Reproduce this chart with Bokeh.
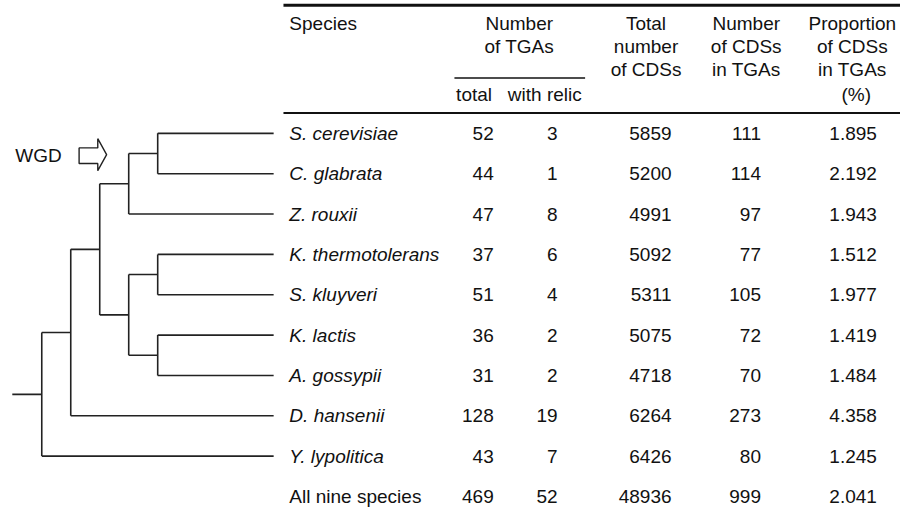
from bokeh.plotting import figure
from bokeh.models import ColumnDataSource, Range1d
from bokeh.core.properties import value
from bokeh.embed import file_html
from bokeh.resources import INLINE

# ---------------- data ----------------
species = ["S. cerevisiae", "C. glabrata", "Z. rouxii", "K. thermotolerans", "S. kluyveri",
           "K. lactis", "A. gossypii", "D. hansenii", "Y. lypolitica"]
tga_total = [52, 44, 47, 37, 51, 36, 31, 128, 43]
tga_relic = [3, 1, 8, 6, 4, 2, 2, 19, 7]
cds_total = [5859, 5200, 4991, 5092, 5311, 5075, 4718, 6264, 6426]
cds_in_tga = [111, 114, 97, 77, 105, 72, 70, 273, 80]
prop_pct = [1.895, 2.192, 1.943, 1.512, 1.977, 1.419, 1.484, 4.358, 1.245]

summary_label = "All nine species"
summary_values = [469, 52, 48936, 999, 2.041]

# phylogeny (leaf indices refer to species list)
tree = (((((0, 1), 2), ((3, 4), (5, 6))), 7), 8)
event_label = "WGD"

header_species = ["Species"]
header_tga = ["Number", "of TGAs"]
header_tga_sub = ["total", "with relic"]
header_cds = ["Total", "number", "of CDSs"]
header_cds_tga = ["Number", "of CDSs", "in TGAs"]
header_prop = ["Proportion", "of CDSs", "in TGAs"]
header_prop_unit = "(%)"

# ---------------- layout (reference-pixel coordinates) ----------------
FONT = value("Liberation Sans")
FS = "19px"
INK = "#111111"
ROW0, ROW_STEP = 137, 41.6
HEAD_Y = [24, 47.5, 71]
SUB_Y = 97
SPECIES_X = 294
COL_RIGHT = [502, 567, 683, 774, 892]
TABLE_X0, TABLE_X1 = 288, 916
LEAF_END = 278
NODE_X0, NODE_DX = 42, 29.5
STUB_X = 12

p = figure(width=900, height=514, x_range=Range1d(0, 916), y_range=Range1d(530, 0),
           output_backend="svg", toolbar_location=None, min_border=0,
           x_axis_type=None, y_axis_type=None)
p.grid.visible = False
p.outline_line_color = None
p.background_fill_color = "white"
p.border_fill_color = "white"

row_y = [ROW0 + ROW_STEP * i for i in range(len(species) + 1)]

# ---------------- rules ----------------
p.segment(x0=[TABLE_X0], y0=[5], x1=[TABLE_X1], y1=[5], line_color=INK, line_width=3)
p.segment(x0=[TABLE_X0], y0=[116], x1=[TABLE_X1], y1=[116], line_color=INK, line_width=2)
p.segment(x0=[462], y0=[80], x1=[595], y1=[80], line_color=INK, line_width=1.5)

# ---------------- header ----------------
def add_lines(lines, x, align, ys):
    src = ColumnDataSource(dict(x=[x] * len(lines), y=ys[:len(lines)], t=lines))
    p.text(x="x", y="y", text="t", source=src, text_align=align, text_baseline="middle",
           text_font=FONT, text_font_size=FS, text_color=INK)

add_lines(header_species, SPECIES_X, "left", HEAD_Y)
add_lines(header_tga, 528, "center", HEAD_Y)
add_lines(header_cds, 657, "center", HEAD_Y)
add_lines(header_cds_tga, 759, "center", HEAD_Y)
add_lines(header_prop, 867, "center", HEAD_Y)
add_lines([header_prop_unit], 871, "center", [SUB_Y])
add_lines([header_tga_sub[0]], 482, "center", [SUB_Y])
add_lines([header_tga_sub[1]], 554, "center", [SUB_Y])

# ---------------- body ----------------
n = len(species)
sp_src = ColumnDataSource(dict(x=[SPECIES_X] * n, y=row_y[:n], t=species))
p.text(x="x", y="y", text="t", source=sp_src, text_align="left", text_baseline="middle",
       text_font=FONT, text_font_size=FS, text_font_style="italic", text_color=INK)
p.text(x=[SPECIES_X], y=[row_y[n]], text=[summary_label], text_align="left",
       text_baseline="middle", text_font=FONT, text_font_size=FS, text_color=INK)

columns = [tga_total, tga_relic, cds_total, cds_in_tga, prop_pct]
for ci, col in enumerate(columns):
    vals = list(col) + [summary_values[ci]]
    txt = [f"{v:.3f}" if isinstance(v, float) else str(v) for v in vals]
    src = ColumnDataSource(dict(x=[COL_RIGHT[ci]] * len(vals), y=row_y, t=txt))
    p.text(x="x", y="y", text="t", source=src, text_align="right", text_baseline="middle",
           text_font=FONT, text_font_size=FS, text_color=INK)

# ---------------- tree ----------------
seg = dict(x0=[], y0=[], x1=[], y1=[])

def add_seg(a, b, c, d):
    seg["x0"].append(a); seg["y0"].append(b); seg["x1"].append(c); seg["y1"].append(d)

def draw(node, depth):
    x = NODE_X0 + depth * NODE_DX
    ys = []
    for child in node:
        if isinstance(child, tuple):
            cy = draw(child, depth + 1)
            add_seg(x, cy, x + NODE_DX, cy)
        else:
            cy = row_y[child]
            add_seg(x, cy, LEAF_END, cy)
        ys.append(cy)
    add_seg(x, min(ys), x, max(ys))
    return (min(ys) + max(ys)) / 2

root_y = draw(tree, 0)
add_seg(STUB_X, root_y, NODE_X0, root_y)
p.segment(x0="x0", y0="y0", x1="x1", y1="y1", source=ColumnDataSource(seg),
          line_color="#222222", line_width=1.6)

# WGD label and arrow
wgd_y = 159
p.text(x=[15], y=[wgd_y + 1], text=[event_label], text_align="left", text_baseline="middle",
       text_font=FONT, text_font_size=FS, text_color=INK)
tip = 108
ax = [tip - 28, tip - 9, tip - 9, tip, tip - 9, tip - 9, tip - 28]
ay = [wgd_y - 7, wgd_y - 7, wgd_y - 16.5, wgd_y, wgd_y + 16.5, wgd_y + 9, wgd_y + 9]
p.patch(ax, ay, fill_color="white", line_color="#222222", line_width=1.4)

open("out.html", "w").write(file_html(p, INLINE))
